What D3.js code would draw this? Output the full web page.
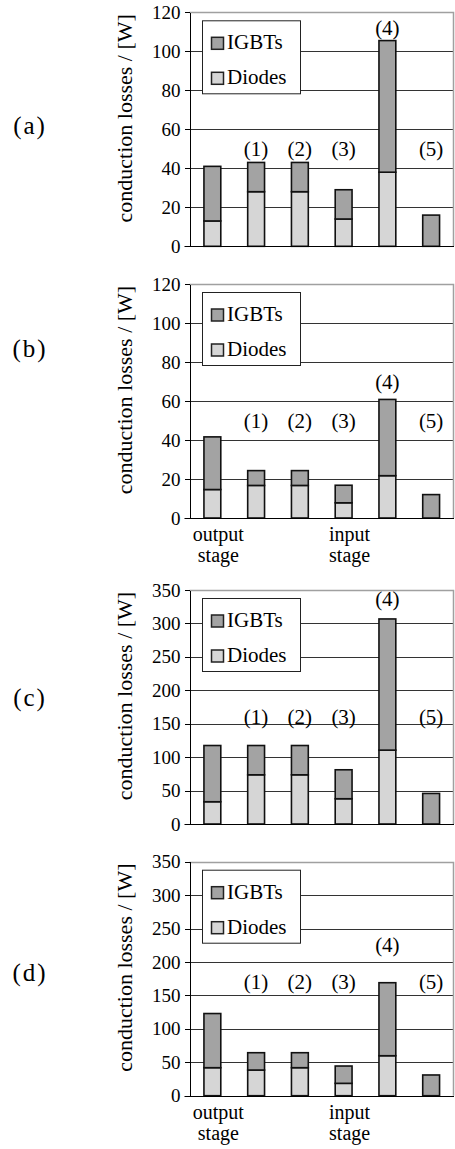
<!DOCTYPE html>
<html lang="en">
<head>
<meta charset="utf-8">
<title>Conduction losses</title>
<script src="https://cdn.jsdelivr.net/npm/d3@7"></script>
<style>
  body { margin: 0; background: #fff; }
  .axis path, .axis line { stroke: #000; shape-rendering: crispEdges; }
</style>
</head>
<body>
<script>
var w = 455, h = 1149;
var serif = "'Liberation Serif'";

// categories (bottom labels, multi-line) and the case numbers above bars
var categories = ["output\nstage", "", "", "input\nstage", "", ""];
var caseLabels = ["", "(1)", "(2)", "(3)", "(4)", "(5)"];
var series = ["IGBTs", "Diodes"];

// (a)
var diodesA = [13, 28, 28, 14, 38, 0];
var igbtsA  = [28, 15, 15, 15, 67.5, 16];
var ticksA  = [0, 20, 40, 60, 80, 100, 120];
// (b)
var diodesB = [14.6, 16.7, 16.7, 7.8, 21.7, 0];
var igbtsB  = [27, 7.6, 7.6, 9, 39.1, 12];
var ticksB  = [0, 20, 40, 60, 80, 100, 120];
// (c)
var diodesC = [33.3, 73.6, 73.6, 37.8, 110.5, 0];
var igbtsC  = [84.1, 43.8, 43.8, 43.3, 196.2, 45.7];
var ticksC  = [0, 50, 100, 150, 200, 250, 300, 350];
// (d)
var diodesD = [41.9, 38.4, 41.9, 18.5, 59.8, 0];
var igbtsD  = [81, 25.9, 22.4, 25.9, 109.2, 31];
var ticksD  = [0, 50, 100, 150, 200, 250, 300, 350];

var panels = [
  { name: "(a)", diodes: diodesA, igbts: igbtsA, ticks: ticksA, top: 12.3, labelY: 126, caseLevel: 50, bigLevel: 112, showCats: false },
  { name: "(b)", diodes: diodesB, igbts: igbtsB, ticks: ticksB, top: 284, labelY: 349, caseLevel: 49.5, bigLevel: 70, showCats: true },
  { name: "(c)", diodes: diodesC, igbts: igbtsC, ticks: ticksC, top: 590, labelY: 698, caseLevel: 160, bigLevel: 337, showCats: false },
  { name: "(d)", diodes: diodesD, igbts: igbtsD, ticks: ticksD, top: 861.7, labelY: 973, caseLevel: 170, bigLevel: 225, showCats: true }
];

var colors = { IGBTs: "#a3a3a3", Diodes: "#d6d6d6" };
var left = 189.5, right = 454, plotH = 234;

var svg = d3.select("body").append("svg")
  .attr("width", w)
  .attr("height", h)
  .style("font-family", serif);

var xScale = d3.scaleBand()
  .domain(d3.range(categories.length))
  .range([left, right])
  .paddingInner(0.615)
  .paddingOuter(0.33);

panels.forEach(function(p) {
  var yMax = p.ticks[p.ticks.length - 1];
  var yScale = d3.scaleLinear()
    .domain([0, yMax])
    .range([p.top + plotH, p.top]);

  var g = svg.append("g");

  //gridlines
  g.selectAll("line.grid")
    .data(p.ticks.slice(1, -1))
    .enter()
    .append("line")
    .attr("class", "grid")
    .attr("x1", left).attr("x2", right)
    .attr("y1", function(d) { return Math.round(yScale(d)) + 0.5; })
    .attr("y2", function(d) { return Math.round(yScale(d)) + 0.5; })
    .attr("stroke", "#333")
    .attr("stroke-width", 1);

  //plot border top + right (gray)
  g.append("path")
    .attr("d", "M" + left + "," + (Math.round(p.top) + 0.5) + "H" + (right - 0.5) + "V" + yScale(0))
    .attr("fill", "none")
    .attr("stroke", "#a0a0a0")
    .attr("stroke-width", 1.5);

  //stacked bars
  var rows = p.diodes.map(function(d, i) { return { Diodes: d, IGBTs: p.igbts[i] }; });
  var stack = d3.stack().keys(["Diodes", "IGBTs"])(rows);
  stack.forEach(function(layer) {
    g.selectAll("rect." + layer.key)
      .data(layer.filter(function(d) { return d[1] - d[0] > 0; }))
      .enter()
      .append("rect")
      .attr("class", layer.key)
      .attr("x", function(d) { return xScale(layer.indexOf(d)); })
      .attr("y", function(d) { return yScale(d[1]); })
      .attr("width", xScale.bandwidth())
      .attr("height", function(d) { return yScale(d[0]) - yScale(d[1]); })
      .attr("fill", colors[layer.key])
      .attr("stroke", "#111")
      .attr("stroke-width", 1.6);
  });

  //Y axis
  var yAx = g.append("g")
    .attr("class", "axis")
    .attr("transform", "translate(" + left + ",0)")
    .call(d3.axisLeft(yScale).tickValues(p.ticks).tickSize(5).tickPadding(4).tickSizeOuter(0));
  yAx.attr("font-family", null).attr("font-size", null);
  yAx.selectAll("text").style("font-family", serif).style("font-size", "19px");

  //X axis line
  g.append("line")
    .attr("x1", left - 5).attr("x2", right)
    .attr("y1", Math.round(yScale(0)) + 0.5).attr("y2", Math.round(yScale(0)) + 0.5)
    .attr("stroke", "#000").attr("stroke-width", 1.2);

  //case labels
  g.selectAll("text.case")
    .data(caseLabels)
    .enter()
    .append("text")
    .attr("class", "case")
    .attr("text-anchor", "middle")
    .style("font-family", serif)
    .style("font-size", "21px")
    .attr("x", function(d, i) { return xScale(i) + xScale.bandwidth() / 2; })
    .attr("y", function(d) { return yScale(d === "(4)" ? p.bigLevel : p.caseLevel) + 7; })
    .text(function(d) { return d; });

  //category labels
  if (p.showCats) {
    categories.forEach(function(c, i) {
      if (!c) return;
      c.split("\n").forEach(function(line, k) {
        g.append("text")
          .attr("text-anchor", "middle")
          .style("font-family", serif)
          .style("font-size", "20px")
          .attr("x", xScale(i) + xScale.bandwidth() / 2 + 6)
          .attr("y", yScale(0) + 23 + k * 21)
          .text(line);
      });
    });
  }

  //legend
  var lg = g.append("g").attr("transform", "translate(202," + (p.top + 8) + ")");
  lg.append("rect")
    .attr("x", 0.5).attr("y", 0.5)
    .attr("width", 98).attr("height", 73)
    .attr("fill", "#fff")
    .attr("stroke", "#222")
    .attr("stroke-width", 1);
  series.forEach(function(s, k) {
    lg.append("rect")
      .attr("x", 9.5).attr("y", 17 + k * 35)
      .attr("width", 12).attr("height", 12)
      .attr("fill", colors[s])
      .attr("stroke", "#222")
      .attr("stroke-width", 1.5);
    lg.append("text")
      .attr("x", 25).attr("y", 29 + k * 35)
      .style("font-family", serif)
      .style("font-size", "21px")
      .text(s);
  });

  //Y title
  g.append("text")
    .attr("transform", "translate(132," + (p.top + plotH / 2 - 11) + ") rotate(-90)")
    .attr("text-anchor", "middle")
    .style("font-family", serif)
    .style("font-size", "22px")
    .text("conduction losses / [W]");

  //panel label
  svg.append("text")
    .attr("x", 30).attr("y", p.labelY + 8)
    .attr("text-anchor", "middle")
    .style("font-family", serif)
    .style("font-size", "25px")
    .attr("letter-spacing", "2px")
    .text(p.name);
});
</script>
</body>
</html>
